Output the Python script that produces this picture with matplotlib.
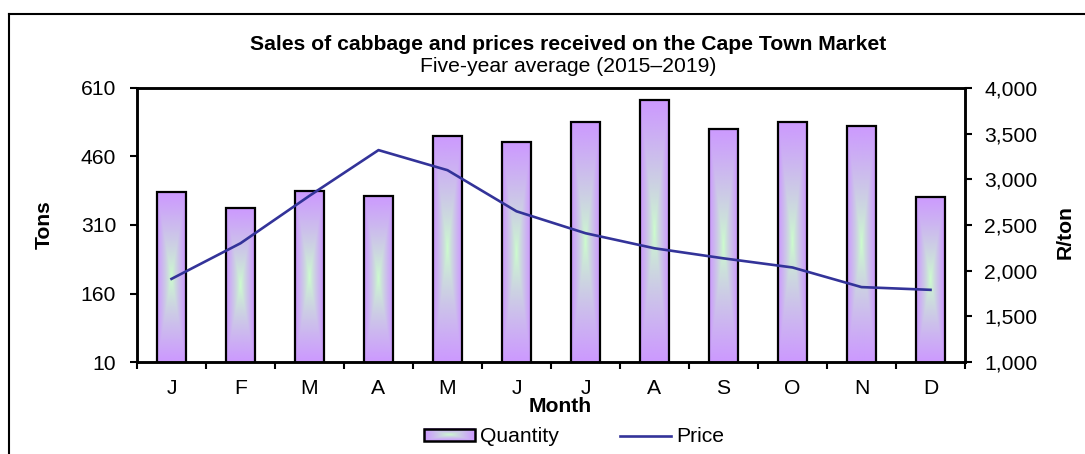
import numpy as np
import matplotlib
matplotlib.use("Agg")
import matplotlib.pyplot as plt
from matplotlib.patches import Rectangle
from matplotlib.lines import Line2D
from matplotlib.legend_handler import HandlerBase
from matplotlib.image import BboxImage
from matplotlib.transforms import Bbox, TransformedBbox
from matplotlib.ticker import FuncFormatter

months = ["J", "F", "M", "A", "M", "J", "J", "A", "S", "O", "N", "D"]
quantity = [382, 347, 384, 374, 505, 491, 536, 583, 521, 536, 527, 372]
price = [1910, 2300, 2820, 3320, 3100, 2650, 2410, 2245, 2135, 2035, 1820, 1790]

tons_ticks = [10, 160, 310, 460, 610]
price_ticks = [1000, 1500, 2000, 2500, 3000, 3500, 4000]

purple = np.array([204, 153, 255]) / 255
green = np.array([204, 255, 204]) / 255


def gradient(nx, ny):
    # green in the middle, purple towards every edge
    u = np.abs(np.linspace(-1, 1, nx))
    v = np.abs(np.linspace(-1, 1, ny))
    t = np.maximum(u[None, :], v[:, None]) ** 0.8
    return green * (1 - t[..., None]) + purple * t[..., None]


bar_grad = gradient(40, 200)
leg_grad = gradient(60, 14)


class GradHandler(HandlerBase):
    def create_artists(self, legend, orig_handle, xdescent, ydescent,
                       width, height, fontsize, trans):
        bb = TransformedBbox(Bbox.from_bounds(-xdescent, -ydescent, width, height), trans)
        img = BboxImage(bb, interpolation="bilinear")
        img.set_data(leg_grad)
        rect = Rectangle((-xdescent, -ydescent), width, height, facecolor="none",
                         edgecolor="black", lw=1.8, transform=trans)
        return [img, rect]


plt.rcParams["font.family"] = ["Liberation Sans", "DejaVu Sans"]
plt.rcParams["font.size"] = 15.2

W, H = 1085, 454
fig = plt.figure(figsize=(W / 100, H / 100), dpi=100)
ax = fig.add_axes([137 / W, 1 - 362 / H, 828 / W, 274 / H])
ax2 = ax.twinx()

x = np.arange(len(months))
bw = 0.41
for xi, q in zip(x, quantity):
    ax.imshow(bar_grad, extent=(xi - bw / 2, xi + bw / 2, 10, q), aspect="auto",
              interpolation="bilinear", zorder=2)
ax.bar(x, quantity, bw, fill=False, edgecolor="black", lw=1.6, zorder=3)

ax2.plot(x, price, color="#333399", lw=1.9)

ax.set_xlim(-0.5, 11.5)
ax.set_ylim(10, 610)
ax.set_yticks(tons_ticks)
ax2.set_ylim(1000, 4000)
ax2.set_yticks(price_ticks)
ax2.yaxis.set_major_formatter(FuncFormatter(lambda v, p: f"{v:,.0f}"))

ax.set_xticks(np.arange(-0.5, 12, 1))
ax.set_xticklabels([])
ax.set_xticks(x, minor=True)
ax.set_xticklabels(months, minor=True)
ax.tick_params(axis="x", which="major", direction="out", length=5, width=1.5)
ax.tick_params(axis="x", which="minor", length=0, pad=12)
ax.tick_params(axis="y", direction="out", length=5, width=1.5, pad=10)
ax2.tick_params(axis="y", direction="out", length=5, width=1.5, pad=9)

for a in (ax, ax2):
    for s in a.spines.values():
        s.set_linewidth(1.8)

fig.text(568 / W, 1 - 44 / H, "Sales of cabbage and prices received on the Cape Town Market",
         ha="center", va="center", weight="bold")
fig.text(568 / W, 1 - 67 / H, "Five-year average (2015\u20132019)", ha="center", va="center")
fig.text(44 / W, 1 - 225 / H, "Tons", rotation=90, ha="center", va="center", weight="bold")
fig.text(1065 / W, 1 - 232 / H, "R/ton", rotation=90, ha="center", va="center", weight="bold")
fig.text(560 / W, 1 - 406 / H, "Month", ha="center", va="center", weight="bold")

proxy = Rectangle((0, 0), 1, 1)
line_proxy = Line2D([], [], color="#333399", lw=1.9)
fig.legend([proxy, line_proxy], ["Quantity", "Price"], handler_map={proxy: GradHandler()},
           loc="center", bbox_to_anchor=(574 / W, 1 - 437 / H), ncol=2, frameon=False,
           handlelength=2.4, handleheight=0.55, handletextpad=0.25, columnspacing=2.9,
           borderpad=0, borderaxespad=0)

# outer chart frame (left and top edges only visible)
fig.add_artist(Line2D([9 / W, 9 / W], [0, 1 - 14 / H], color="black", lw=1.5,
                      transform=fig.transFigure))
fig.add_artist(Line2D([9 / W, 1], [1 - 14 / H, 1 - 14 / H], color="black", lw=1.5,
                      transform=fig.transFigure))

fig.savefig("out.png", dpi=100)
